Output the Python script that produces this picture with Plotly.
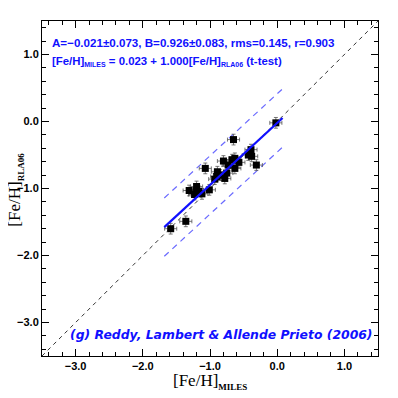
import plotly.graph_objects as go

# =========================
# Data
# =========================

feh_miles = [-0.02, -0.65, -1.07, -1.585, -1.36, -1.31, -1.23, -1.20, -1.20, -1.01,
             -1.12, -0.90, -0.85, -0.78, -0.75, -0.80, -0.73, -0.63, -0.63, -0.57,
             -0.67, -0.43, -0.39, -0.38, -0.31, -0.89, -0.93, -1.17]
feh_rla06 = [-0.02, -0.27, -0.70, -1.60, -1.49, -1.03, -1.09, -0.97, -1.03, -1.02,
             -1.08, -0.82, -0.80, -0.85, -0.77, -0.59, -0.65, -0.70, -0.55, -0.61,
             -0.57, -0.50, -0.42, -0.52, -0.65, -0.75, -0.86, -1.04]
err_x = 0.09
err_y = 0.08

fit_a = -0.021
fit_b = 0.926
fit_rms = 0.145
fit_x = [-1.68, 0.08]

ticks = [-3.0, -2.0, -1.0, 0.0, 1.0]
tick_text = ['\u22123.0', '\u22122.0', '\u22121.0', '0.0', '1.0']

# =========================
# Figure
# =========================

blue = '#1010ff'
fig = go.Figure()

# one-to-one line
fig.add_trace(go.Scatter(
    x=[-3.5, 1.5], y=[-3.5, 1.5], mode='lines',
    line=dict(color='black', width=0.8, dash='4px,4px'), hoverinfo='skip'
))

# fit and +-3 rms band
fit_y = [fit_a + fit_b * v for v in fit_x]
for off in [3 * fit_rms, -3 * fit_rms]:
    fig.add_trace(go.Scatter(
        x=fit_x, y=[v + off for v in fit_y], mode='lines',
        line=dict(color='#6a6aff', width=1.2, dash='6px,5px'), hoverinfo='skip'
    ))

fig.add_trace(go.Scatter(
    x=feh_miles, y=feh_rla06, mode='markers',
    marker=dict(symbol='square', size=7, color='black'),
    error_x=dict(type='constant', value=err_x, color='#555555', thickness=0.8, width=2),
    error_y=dict(type='constant', value=err_y, color='#555555', thickness=0.8, width=2),
))

fig.add_trace(go.Scatter(
    x=fit_x, y=fit_y, mode='lines',
    line=dict(color=blue, width=2.2), hoverinfo='skip'
))

axis_common = dict(
    range=[-3.5, 1.5], tickvals=ticks, ticktext=tick_text,
    ticks='inside', ticklen=7, tickcolor='black', tickwidth=1,
    minor=dict(dtick=0.2, ticks='inside', ticklen=4, tickcolor='black'),
    showline=True, linecolor='black', linewidth=1, mirror='ticks',
    showgrid=False, zeroline=False, automargin=False,
    tickfont=dict(family='Liberation Sans', size=11, color='black', weight='bold'),
)
fig.update_xaxes(**axis_common)
fig.update_yaxes(**axis_common)

# axis titles
title_font = dict(family='Liberation Serif', size=17, color='black')
fig.add_annotation(
    x=0.5, y=-0.075, xref='paper', yref='paper', xanchor='center', yanchor='middle',
    text="[Fe/H]<sub><span style='font-size:9px'><b>MILES</b></span></sub>",
    showarrow=False, font=title_font
)
fig.add_annotation(
    x=-0.078, y=0.496, xref='paper', yref='paper', xanchor='center', yanchor='middle',
    text="[Fe/H]<sub><span style='font-size:9px'><b>RLA06</b></span></sub>",
    showarrow=False, font=title_font, textangle=-90
)

fig.add_annotation(
    x=0.024, y=0.937, xref='paper', yref='paper', xanchor='left', yanchor='middle',
    text='<b>A=\u22120.021\u00b10.073, B=0.926\u00b10.083, rms=0.145, r=0.903</b>',
    showarrow=False, font=dict(family='Liberation Sans', size=11.6, color=blue)
)
fig.add_annotation(
    x=0.024, y=0.878, xref='paper', yref='paper', xanchor='left', yanchor='middle',
    text="<b>[Fe/H]<sub><span style='font-size:7px'>MILES</span></sub> = 0.023 + 1.000[Fe/H]"
         "<sub><span style='font-size:7px'>RLA06</span></sub> (t-test)</b>",
    showarrow=False, font=dict(family='Liberation Sans', size=11.4, color=blue)
)
fig.add_annotation(
    x=0.991, y=0.063, xref='paper', yref='paper', xanchor='right', yanchor='middle',
    text='<b><i>(g) Reddy, Lambert &amp; Allende Prieto (2006)</i></b>',
    showarrow=False, font=dict(family='DejaVu Sans', size=12.4, color=blue)
)

# page body has an 8px margin, so the figure is sized to fit inside the window
fig.update_layout(
    width=390, height=390,
    showlegend=False,
    margin=dict(l=34, r=20, t=13, b=42),
    paper_bgcolor='white',
    plot_bgcolor='white',
)

fig.write_html('out.html')
